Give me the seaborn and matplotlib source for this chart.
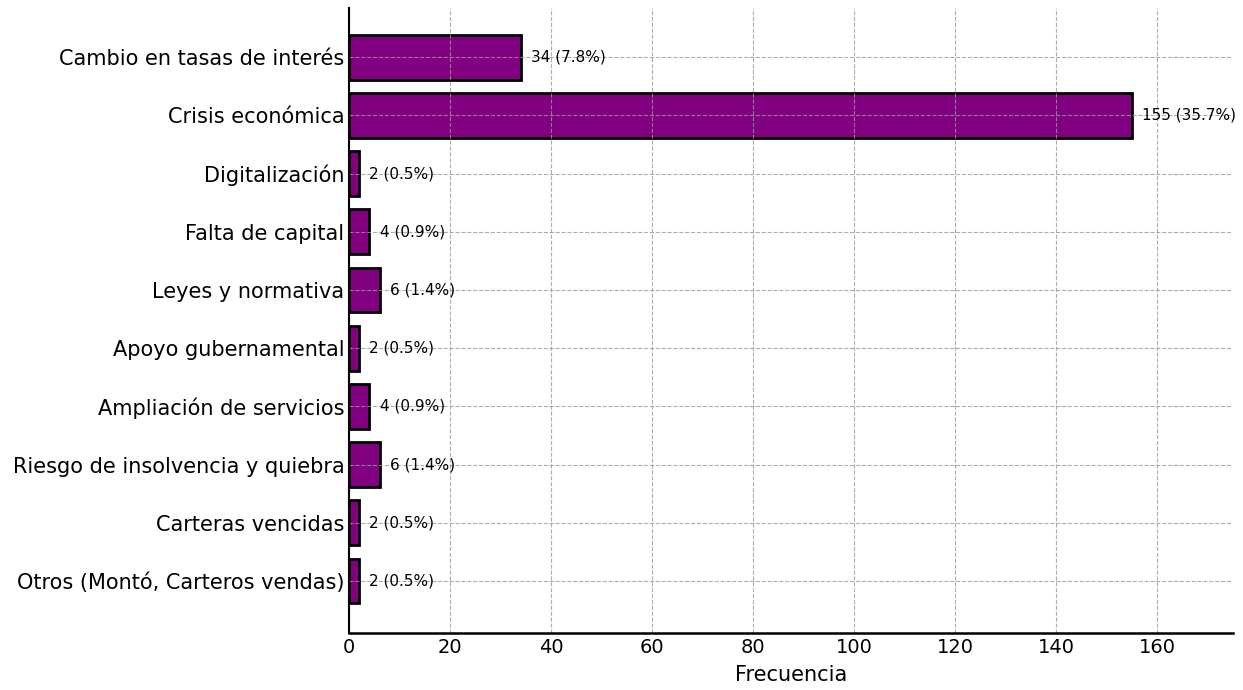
import pandas as pd
import matplotlib.pyplot as plt
import seaborn as sns

sns.set_style('white')
plt.rcParams['font.family'] = ['DejaVu Sans']
plt.rcParams['text.color'] = 'black'
plt.rcParams['axes.labelcolor'] = 'black'
plt.rcParams['xtick.color'] = 'black'
plt.rcParams['ytick.color'] = 'black'

categories = [
    'Cambio en tasas de interés',
    'Crisis económica',
    'Digitalización',
    'Falta de capital',
    'Leyes y normativa',
    'Apoyo gubernamental',
    'Ampliación de servicios',
    'Riesgo de insolvencia y quiebra',
    'Carteras vencidas',
    'Otros (Montó, Carteros vendas)',
]
counts = [34, 155, 2, 4, 6, 2, 4, 6, 2, 2]
percents = [7.8, 35.7, 0.5, 0.9, 1.4, 0.5, 0.9, 1.4, 0.5, 0.5]

df = pd.DataFrame({'motivo': categories, 'frecuencia': counts, 'pct': percents})

fig, ax = plt.subplots(figsize=(12.43, 6.9), dpi=100)
fig.subplots_adjust(left=0.281, right=0.992, top=0.988, bottom=0.083)

sns.barplot(data=df, x='frecuencia', y='motivo', orient='h', color='#800080',
            saturation=1, edgecolor='black', linewidth=2, width=0.77, ax=ax)

for i, row in df.iterrows():
    ax.text(row['frecuencia'] + 2, i, f"{row['frecuencia']} ({row['pct']}%)",
            va='center', ha='left', fontsize=11, color='black')

ax.set_xlim(0, 175)
ax.set_ylim(len(categories) - 0.11, -0.84)
ax.set_xticks(range(0, 161, 20))
ax.grid(True, linestyle='--', color='#999999', alpha=0.8, linewidth=0.8)
ax.set_axisbelow(False)
ax.set_xlabel('Frecuencia', fontsize=15, labelpad=6)
ax.set_ylabel('')
ax.tick_params(axis='x', labelsize=14, direction='in', length=4)
ax.tick_params(axis='y', labelsize=15, length=0)
sns.despine(ax=ax)
for side, lw in [('left', 1.5), ('bottom', 1.8)]:
    ax.spines[side].set_linewidth(lw)
    ax.spines[side].set_color('black')
    ax.spines[side].set_zorder(5)

plt.savefig('out.png', dpi=100)
plt.close()
